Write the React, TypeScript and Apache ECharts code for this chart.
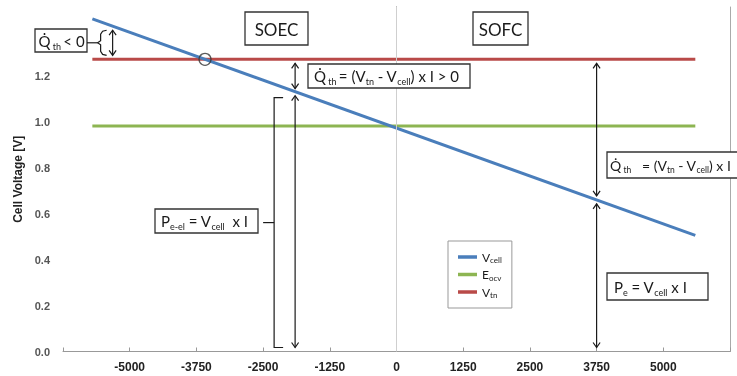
import React, { useEffect, useRef } from 'react';
import * as echarts from 'echarts';

// ---- data ----
const currents = [-5700, 5600];
const vCell = [1.448, 0.506];
const eOcv = [0.982, 0.982];
const vTn = [1.272, 1.272];
const xTickLabels = [-5000, -3750, -2500, -1250, 0, 1250, 2500, 3750, 5000];
const yTickLabels = [0, 0.2, 0.4, 0.6, 0.8, 1.0, 1.2];
const seriesNames = ['V_cell', 'E_ocv', 'V_tn'];
const annotateCurrentSmall = -5320;
const annotateCurrentSOEC = -1900;
const annotateCurrentSOFC = 3750;

const FONT = 'Lato, "Liberation Sans", sans-serif';
const AXFONT = '"Liberation Sans", Arial, sans-serif';
const INK = '#1a1a1a';

const slope = (vCell[1] - vCell[0]) / (currents[1] - currents[0]);
const vCellAt = (i: number) => vCell[0] + (i - currents[0]) * slope;
const crossI = currents[0] + (vTn[0] - vCell[0]) / slope;

const rich = (main: number, sub: number) => ({
  m: { fontSize: main, fontFamily: FONT, fill: INK, color: INK, lineHeight: main + 5, verticalAlign: 'middle' },
  s: { fontSize: sub, fontFamily: FONT, fill: INK, color: INK, lineHeight: sub + 1, verticalAlign: 'bottom' },
});

export default function App() {
  const ref = useRef<HTMLDivElement>(null);
  useEffect(() => {
    const chart = echarts.init(ref.current!, null, { renderer: 'svg' });
    const option: any = {
      animation: false,
      grid: { left: 63, right: 7, top: 7, bottom: 24.5, outerBoundsMode: 'none' },
      legend: {
        data: seriesNames,
        orient: 'vertical',
        left: 448,
        top: 241,
        icon: 'rect',
        itemWidth: 19,
        itemHeight: 3.5,
        itemGap: 4.5,
        padding: [10, 10, 9, 10],
        borderColor: '#999',
        borderWidth: 1,
        backgroundColor: '#fff',
        formatter: (name: string) => {
          const [a, b] = name.split('_');
          return `{m|${a}}{s|${b}}`;
        },
        textStyle: {
          rich: {
            m: { fontSize: 12, fontFamily: FONT, color: INK, lineHeight: 14, verticalAlign: 'middle' },
            s: { fontSize: 8, fontFamily: FONT, color: INK, lineHeight: 9, verticalAlign: 'bottom' },
          },
        },
      },
      xAxis: {
        type: 'value',
        min: -6250,
        max: 6250,
        interval: 1250,
        axisLine: { lineStyle: { color: '#999', width: 1 } },
        axisTick: { show: true, inside: true, length: 4, lineStyle: { color: '#999' } },
        splitLine: { show: false },
        axisLabel: {
          margin: 9,
          fontSize: 12,
          fontWeight: 'bold',
          fontFamily: AXFONT,
          color: '#222',
          formatter: (v: number) => (xTickLabels.includes(v) ? String(v) : ''),
        },
      },
      yAxis: [
        {
          type: 'value',
          min: 0,
          max: 1.5,
          interval: 0.2,
          name: 'Cell Voltage [V]',
          nameLocation: 'middle',
          nameRotate: 90,
          nameGap: 39,
          nameTextStyle: { fontSize: 12, fontWeight: 'bold', fontFamily: AXFONT, color: '#222' },
          axisLine: { show: true, lineStyle: { color: '#666', width: 1 } },
          axisTick: { show: false },
          splitLine: { show: false },
          axisLabel: {
            margin: 13,
            fontSize: 11,
            fontWeight: 'bold',
            fontFamily: AXFONT,
            color: '#555',
            formatter: (v: number) =>
              yTickLabels.some((t) => Math.abs(t - v) < 1e-6) ? v.toFixed(1) : '',
          },
        },
        {
          type: 'value',
          min: 0,
          max: 1.5,
          position: 'right',
          axisLine: { show: true, lineStyle: { color: '#aaa', width: 1 } },
          axisTick: { show: false },
          axisLabel: { show: false },
          splitLine: { show: false },
        },
      ],
      series: [
        {
          name: 'V_cell',
          type: 'line',
          data: currents.map((c, i) => [c, vCell[i]]),
          showSymbol: false,
          z: 4,
          lineStyle: { color: '#4a7ebb', width: 3 },
          itemStyle: { color: '#4a7ebb' },
          markLine: {
            silent: true,
            symbol: 'none',
            label: { show: false },
            lineStyle: { color: '#cfcfcf', width: 1, type: 'solid' },
            data: [{ xAxis: 0 }],
          },
        },
        {
          name: 'E_ocv',
          type: 'line',
          data: currents.map((c, i) => [c, eOcv[i]]),
          showSymbol: false,
          z: 3,
          lineStyle: { color: '#8db552', width: 3 },
          itemStyle: { color: '#8db552' },
        },
        {
          name: 'V_tn',
          type: 'line',
          data: currents.map((c, i) => [c, vTn[i]]),
          showSymbol: false,
          z: 3,
          lineStyle: { color: '#b94a48', width: 3 },
          itemStyle: { color: '#b94a48' },
        },
        {
          name: 'crossing',
          type: 'scatter',
          data: [[crossI, vTn[0]]],
          symbol: 'circle',
          symbolSize: 12,
          z: 6,
          itemStyle: { color: 'rgba(0,0,0,0)', borderColor: '#333', borderWidth: 1.3 },
        },
      ],
    };
    chart.setOption(option);

    const px = (x: number, y: number) => chart.convertToPixel({ gridIndex: 0 }, [x, y]) as number[];
    const Z = 50;
    const stroke = { stroke: INK, lineWidth: 1.2 };
    const seg = (x1: number, y1: number, x2: number, y2: number) => ({
      type: 'line', z: Z, shape: { x1, y1, x2, y2 }, style: { ...stroke },
    });
    const headUp = (x: number, y: number) => ({
      type: 'polyline', z: Z, shape: { points: [[x - 3.5, y + 5], [x, y], [x + 3.5, y + 5]] },
      style: { ...stroke, fill: 'none' },
    });
    const headDown = (x: number, y: number) => ({
      type: 'polyline', z: Z, shape: { points: [[x - 3.5, y - 5], [x, y], [x + 3.5, y - 5]] },
      style: { ...stroke, fill: 'none' },
    });
    const dArrow = (x: number, y1: number, y2: number) => [seg(x, y1, x, y2), headUp(x, y1), headDown(x, y2)];
    const box = (x: number, y: number, w: number, h: number) => ({
      type: 'rect', z: Z, shape: { x, y, width: w, height: h },
      style: { fill: '#fff', stroke: '#333', lineWidth: 1.3 },
    });
    const label = (x: number, y: number, text: string, main = 15, sub = 9, align = 'left') => ({
      type: 'text', z: Z + 1, x, y,
      style: {
        text, rich: rich(main, sub), fill: INK, font: `${main}px ${FONT}`,
        align, textAlign: align, verticalAlign: 'middle', textVerticalAlign: 'middle',
      },
    });

    const zeroY = px(0, 0)[1];
    const redY = px(0, vTn[0])[1];

    // small arrow near the left
    const [xs, bs] = px(annotateCurrentSmall, vCellAt(annotateCurrentSmall));
    const sTop = bs + 4;
    const sBot = redY - 4;
    const sMid = (sTop + sBot) / 2;
    const bx = xs - 6;

    // SOEC arrows
    const [xa, ba] = px(annotateCurrentSOEC, vCellAt(annotateCurrentSOEC));
    const brX = xa - 21;
    const brTop = ba + 6;
    const brBot = zeroY - 4;
    const brMid = (brTop + brBot) / 2;

    // SOFC arrows
    const [xb, bb] = px(annotateCurrentSOFC, vCellAt(annotateCurrentSOFC));

    const elements: any[] = [
      box(245, 12, 63, 33),
      label(276.5, 29, '{m|SOEC}', 17, 9, 'center'),
      box(473, 12, 55, 33),
      label(500.5, 29, '{m|SOFC}', 17, 9, 'center'),

      box(35, 29, 52, 23),
      label(38.5, 40.5, '{m|Q\u0307}{s| th }{m|< 0}'),
      seg(87, sMid, bx - 9, sMid),
      {
        type: 'polyline', z: Z,
        shape: {
          points: [
            [bx, sTop], [bx - 4, sTop + 1], [bx - 6, sTop + 4], [bx - 6, sMid - 2], [bx - 9, sMid],
            [bx - 6, sMid + 2], [bx - 6, sBot - 4], [bx - 4, sBot - 1], [bx, sBot],
          ],
        },
        style: { ...stroke, fill: 'none' },
      },
      ...dArrow(xs, sTop, sBot),

      ...dArrow(xa, redY + 4, ba - 3),
      box(308, 64, 162, 24),
      label(314, 76, '{m|Q\u0307}{s| th }{m|= (V}{s|tn}{m| - V}{s|cell}{m|) x I > 0}'),
      ...dArrow(xa, ba + 4, zeroY - 4),
      {
        type: 'polyline', z: Z,
        shape: { points: [[brX + 9, brTop], [brX, brTop], [brX, brBot], [brX + 9, brBot]] },
        style: { ...stroke, fill: 'none' },
      },
      seg(brX, brMid, brX - 11, brMid),
      box(155, 209, 103, 24),
      label(161, 221, '{m|P}{s|e-el}{m| = V}{s|cell}{m|  x I}'),

      ...dArrow(xb, redY + 4, bb - 4),
      ...dArrow(xb, bb + 4, zeroY - 4),
      box(607, 152, 132, 26),
      label(610, 165, '{m|Q\u0307}{s| th}{m|   = (V}{s|tn}{m| - V}{s|cell}{m|) x I}', 14, 8.5),
      box(607, 273, 101, 27),
      label(614, 286.5, '{m|P}{s|e}{m| = V}{s|cell}{m| x I}'),
    ];
    chart.setOption({ graphic: { elements } });
    return () => chart.dispose();
  }, []);
  return <div ref={ref} style={{ position: 'fixed', left: 0, top: 0, width: 737, height: 376 }} />;
}
